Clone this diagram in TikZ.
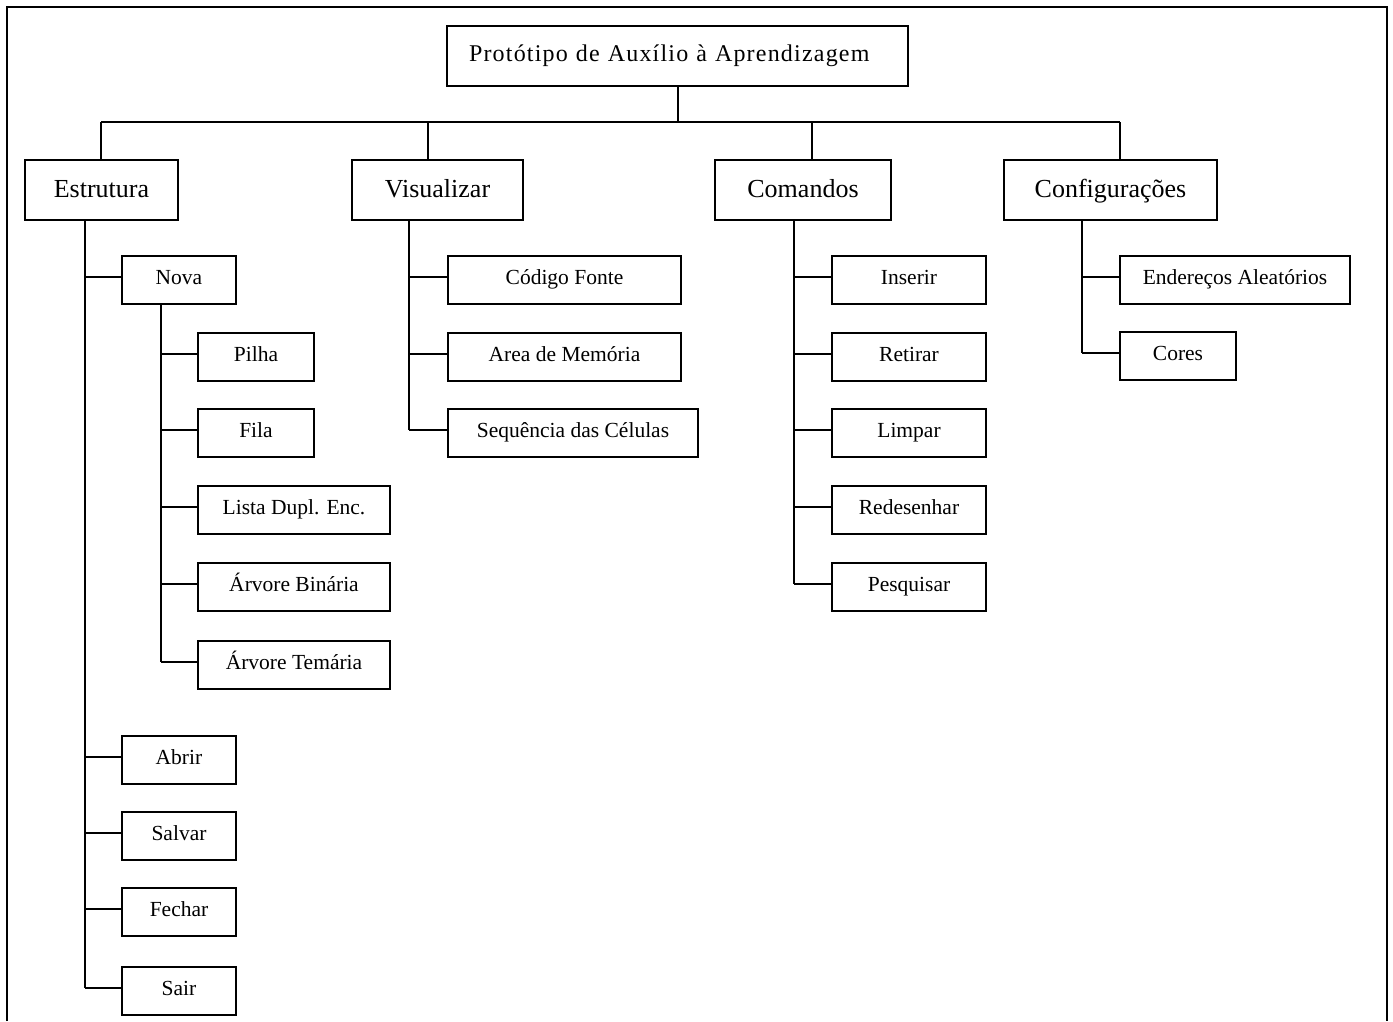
\documentclass[tikz,border=0pt]{standalone}
\usepackage{fontspec}
\setmainfont{Liberation Serif}
\newfontfamily\titlefont[LetterSpace=5]{Liberation Serif}
\begin{document}
\begin{tikzpicture}[x=1pt,y=-1pt,
  every node/.style={draw,line width=2pt,rectangle,inner sep=0pt,anchor=center},
  toplevel/.style={minimum height=60pt,text height=18pt,text depth=4pt,
                   font=\fontsize{26}{30}\selectfont},
  leaf/.style={minimum height=48pt,text height=14pt,text depth=6pt,
               font=\fontsize{21.5}{25}\selectfont},
  wire/.style={line width=2pt}]
\useasboundingbox (0,0) rectangle (1393,1021);

% outer frame (open at the bottom)
\draw[line width=2.5pt] (7,1021) -- (7,7) -- (1387,7) -- (1387,1021);

% root
\node[minimum height=60pt,inner xsep=22pt,text width=417pt,align=left,
      text height=16pt,text depth=6pt,
      font=\titlefont\fontsize{24}{28}\selectfont] (root) at (677.5,56)
      {Protótipo de Auxílio à Aprendizagem};

% first level
\node[toplevel,minimum width=153pt] (estr) at (101.5,190) {Estrutura};
\node[toplevel,minimum width=171pt] (vis)  at (437.5,190) {Visualizar};
\node[toplevel,minimum width=176pt] (com)  at (803,190)   {Comandos};
\node[toplevel,minimum width=213pt] (conf) at (1110.5,190) {Configurações};

% Estrutura
\node[leaf,minimum width=114pt] (nova)   at (179,280) {Nova};
\node[leaf,minimum width=114pt] (abrir)  at (179,760) {Abrir};
\node[leaf,minimum width=114pt] (salvar) at (179,836) {Salvar};
\node[leaf,minimum width=114pt] (fechar) at (179,912) {Fechar};
\node[leaf,minimum width=114pt] (sair)   at (179,991) {Sair};

% Nova
\node[leaf,minimum width=116pt] (pilha) at (256,357) {Pilha};
\node[leaf,minimum width=116pt] (fila)  at (256,433) {Fila};
\node[leaf,minimum width=192pt] (lista) at (294,510) {Lista Dupl. Enc.};
\node[leaf,minimum width=192pt] (bin)   at (294,587) {Árvore Binária};
\node[leaf,minimum width=192pt] (tern)  at (294,665) {Árvore Temária};

% Visualizar
\node[leaf,minimum width=233pt] (codigo) at (564.5,280) {Código Fonte};
\node[leaf,minimum width=233pt] (area)   at (564.5,357) {Area de Memória};
\node[leaf,minimum width=250pt] (seq)    at (573,433)   {Sequência das Células};

% Comandos
\node[leaf,minimum width=154pt] (ins)   at (909,280) {Inserir};
\node[leaf,minimum width=154pt] (ret)   at (909,357) {Retirar};
\node[leaf,minimum width=154pt] (limp)  at (909,433) {Limpar};
\node[leaf,minimum width=154pt] (redes) at (909,510) {Redesenhar};
\node[leaf,minimum width=154pt] (pesq)  at (909,587) {Pesquisar};

% Configurações
\node[leaf,minimum width=230pt] (ender) at (1235,280) {Endereços Aleatórios};
\node[leaf,minimum width=116pt] (cores) at (1178,356) {Cores};

% bus below the root
\coordinate (bR) at (678,122);
\coordinate (bE) at (101,122);
\coordinate (bV) at (428,122);
\coordinate (bC) at (812,122);
\coordinate (bK) at (1120,122);
\draw[wire] (bR |- root.south) -- (bR);
\draw[wire] (bE) -- (bK);
\draw[wire] (bE) -- (bE |- estr.north);
\draw[wire] (bV) -- (bV |- vis.north);
\draw[wire] (bC) -- (bC |- com.north);
\draw[wire] (bK) -- (bK |- conf.north);

% vertical trunks
\coordinate (tE) at (85,0);
\coordinate (tN) at (161,0);
\coordinate (tV) at (409,0);
\coordinate (tC) at (794,0);
\coordinate (tK) at (1082,0);

\foreach \c in {nova,abrir,salvar,fechar,sair,pilha,fila,lista,bin,tern,
                codigo,area,seq,ins,ret,limp,redes,pesq,ender,cores}
  \path ([yshift=3pt]\c.west) coordinate (\c-in);

\draw[wire] (tE |- estr.south) -- (tE |- sair-in);
\draw[wire] (tN |- nova.south) -- (tN |- tern-in);
\draw[wire] (tV |- vis.south)  -- (tV |- seq-in);
\draw[wire] (tC |- com.south)  -- (tC |- pesq-in);
\draw[wire] (tK |- conf.south) -- (tK |- cores-in);

\foreach \c in {nova,abrir,salvar,fechar,sair}  \draw[wire] (tE |- \c-in) -- (\c-in);
\foreach \c in {pilha,fila,lista,bin,tern}     \draw[wire] (tN |- \c-in) -- (\c-in);
\foreach \c in {codigo,area,seq}               \draw[wire] (tV |- \c-in) -- (\c-in);
\foreach \c in {ins,ret,limp,redes,pesq}       \draw[wire] (tC |- \c-in) -- (\c-in);
\foreach \c in {ender,cores}                   \draw[wire] (tK |- \c-in) -- (\c-in);
\end{tikzpicture}
\end{document}
